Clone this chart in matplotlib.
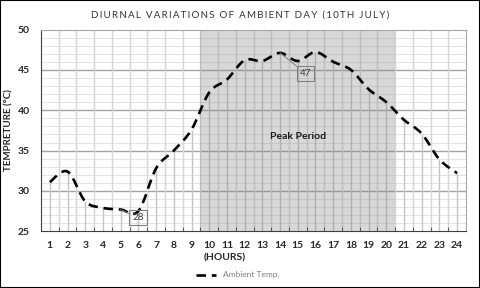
import matplotlib
matplotlib.use("Agg")
import matplotlib.pyplot as plt
from matplotlib.path import Path
from matplotlib.patches import PathPatch, Rectangle
from matplotlib.lines import Line2D

# data
hours = list(range(1, 25))
temps = [31.1, 32.4, 28.7, 27.9, 27.7, 27.5, 32.8, 35.0, 37.6, 42.2, 43.8, 46.2,
         46.1, 47.1, 46.1, 47.2, 46.0, 45.0, 42.6, 41.0, 38.8, 37.1, 33.9, 32.2]
peak_start, peak_end = 10, 20
title = "DIURNAL VARIATIONS OF AMBIENT DAY (10TH JULY)"

plt.rcParams['font.family'] = ['Lato', 'DejaVu Sans']

fig = plt.figure(figsize=(4.8, 2.88), dpi=100)
ax = fig.add_axes([41/480, 1-231.3/288, 425/480, 201.8/288])

ax.set_xlim(0.5, 24.5)
ax.set_ylim(25, 50)

# grid
ax.set_yticks(range(25, 51, 5))
ax.set_xticks(hours)
ax.set_xticks([h + 0.5 for h in hours[:-1]], minor=True)
for y in range(26, 50):
    if y % 5:
        ax.axhline(y, color='#e4e4e4', lw=0.8, zorder=0)
for y in range(30, 50, 5):
    ax.axhline(y, color='#a3a3a3', lw=1.0, zorder=0.5)
for b in range(1, 24):
    ax.axvline(b + 0.5, color='#d6d6d6', lw=1.0, zorder=0.6)

# drop lines
ax.vlines(hours, 25, temps, color='#c4c4c4', lw=1.0, zorder=0.7)

# peak period shading
ax.axvspan(peak_start - 0.5, peak_end + 0.5, color='#808080', alpha=0.3, lw=0, zorder=1)
ax.text((peak_start + peak_end) / 2, 36.7, "Peak Period", ha='center', va='center',
        fontsize=7.5, fontweight='bold', color='#1a1a1a', zorder=3)

# smoothed line (bezier through the data points)
pts = list(zip(hours, temps))
verts = [pts[0]]
codes = [Path.MOVETO]
for i in range(len(pts) - 1):
    p0 = pts[i - 1] if i > 0 else pts[i]
    p1 = pts[i]
    p2 = pts[i + 1]
    p3 = pts[i + 2] if i + 2 < len(pts) else pts[i + 1]
    c1 = (p1[0] + (p2[0] - p0[0]) / 6, p1[1] + (p2[1] - p0[1]) / 6)
    c2 = (p2[0] - (p3[0] - p1[0]) / 6, p2[1] - (p3[1] - p1[1]) / 6)
    verts += [c1, c2, p2]
    codes += [Path.CURVE4] * 3
ax.add_patch(PathPatch(Path(verts, codes), facecolor='none', edgecolor='black',
                       lw=1.9, linestyle=(0, (3.6, 2.2)), zorder=4))

# data labels
for xi, xt, yt in [(5, 5.97, 26.67), (14, 15.45, 44.55)]:
    ax.annotate(str(round(temps[xi - 1])), xy=(xi, temps[xi - 1]), xytext=(xt, yt),
                ha='center', va='center', fontsize=7, color='#404040', zorder=5,
                bbox=dict(boxstyle='square,pad=0.3', fc='none', ec='#7f7f7f', lw=0.8),
                arrowprops=dict(arrowstyle='-', color='#7f7f7f', lw=0.7,
                                shrinkA=0, shrinkB=0))

# axes styling
for s in ['top', 'right']:
    ax.spines[s].set_color('#a6a6a6')
for s in ['left', 'bottom']:
    ax.spines[s].set_color('#404040')
ax.tick_params(axis='y', which='both', length=0, pad=8, labelsize=7.5)
ax.tick_params(axis='x', which='major', length=0, pad=7, labelsize=7.5)
ax.tick_params(axis='x', which='minor', length=3, direction='in', color='#404040')
for lab in ax.get_xticklabels() + ax.get_yticklabels():
    lab.set_fontweight('bold')
    lab.set_color('#262626')

ax.set_ylabel("TEMPRETURE (°C)", fontsize=7, fontweight='bold', color='#262626')
ax.yaxis.set_label_coords(-28/425, 0.5)
fig.text(225/480, 1-258/288, "(HOURS)", ha='center', va='center', fontsize=7.5,
         fontweight='bold', color='#262626')

fig.text(0.5, 1-15/288, "\u2009".join(title), ha='center', va='center',
         fontsize=7, color='#333333')

handle = Line2D([], [], color='black', lw=1.9, linestyle=(0, (3.6, 2.2)))
fig.legend([handle], ["Ambient Temp."], loc='center', bbox_to_anchor=(0.496, 1-275/288),
           frameon=False, fontsize=6, labelcolor='#7f7f7f', handlelength=2.4)

fig.add_artist(Rectangle((0, 0), 1, 1, transform=fig.transFigure, fill=False,
                         ec='black', lw=1.5))

fig.savefig("out.png", dpi=100)
